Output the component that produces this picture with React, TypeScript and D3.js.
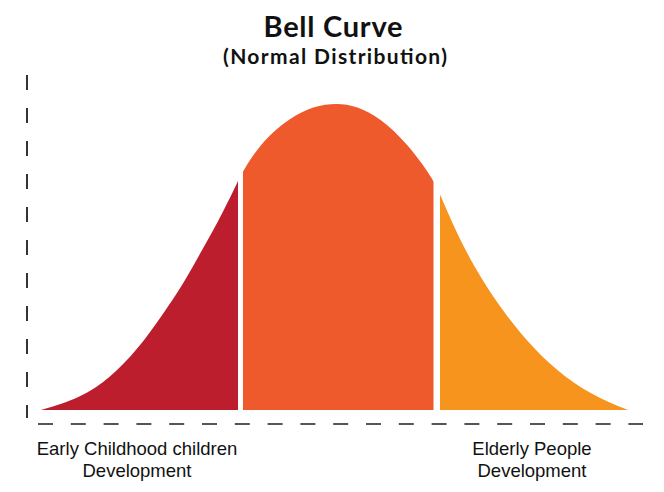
import React from "react";
import * as d3 from "d3";

// Curve samples (x in standard deviations, y as % of peak height)
const xValues = [-3, -2.6, -2.3, -2.03, -1.76, -1.56, -1.36, -1.16, -1.0, -0.95, -0.75, -0.48, -0.24, 0, 0.2, 0.44, 0.71, 0.97, 1.04, 1.23, 1.47, 1.7, 1.98, 2.31, 2.65, 2.95];
const heights = [0, 3.9, 10.5, 19.3, 31.4, 41.0, 52.5, 64.1, 74.8, 78.1, 87.9, 95.1, 99.0, 100, 99.0, 95.1, 86.9, 75.5, 70.6, 56.2, 42.2, 31.4, 20.3, 10.5, 3.9, 0];

// Regions
const regionNames = ["early", "middle", "elderly"];
const regionFrom = [-3.05, -0.953, 1.044];
const regionTo = [-1.003, 0.978, 3.05];
const regionColors = ["#BC1E2E", "#EF5A2C", "#F6941E"];

const title = "Bell Curve";
const subtitle = "(Normal Distribution)";
const leftLabel = ["Early Childhood children", "Development"];
const rightLabel = ["Elderly People", "Development"];

export default function App() {
  const W = 664, H = 492;
  const x = d3.scaleLinear().domain([-3, 3]).range([41, 633]);
  const y = d3.scaleLinear().domain([0, 100]).range([410, 103]);
  const pts = xValues.map((v, i) => [v, heights[i]] as [number, number]);
  const area = d3
    .area<[number, number]>()
    .x((d) => x(d[0]))
    .y0(y(0))
    .y1((d) => y(d[1]))
    .curve(d3.curveBasis);
  const path = area(pts) || "";

  return (
    <svg
      width={W}
      height={H}
      style={{ position: "absolute", left: 0, top: 0, background: "#fff" }}
    >
      <defs>
        {regionNames.map((n, i) => (
          <clipPath id={`clip-${n}`} key={n}>
            <rect
              x={x(regionFrom[i])}
              y={0}
              width={x(regionTo[i]) - x(regionFrom[i])}
              height={H}
            />
          </clipPath>
        ))}
      </defs>
      <rect x={0} y={0} width={W} height={H} fill="#fff" />
      {regionNames.map((n, i) => (
        <path key={n} d={path} fill={regionColors[i]} clipPath={`url(#clip-${n})`} />
      ))}
      {/* y axis */}
      <line x1={27} x2={27} y1={75} y2={418} stroke="#333" strokeWidth={2} strokeDasharray="15 18" />
      {/* x axis */}
      <line x1={38} x2={643} y1={424} y2={424} stroke="#555" strokeWidth={2} strokeDasharray="15 17.8" />
      <text x={333} y={37} textAnchor="middle" fontFamily="Lato, 'Open Sans', sans-serif" fontWeight="bold" fontSize={29} fill="#111" textLength={139} lengthAdjust="spacing">
        {title}
      </text>
      <text x={335} y={64} textAnchor="middle" fontFamily="Lato, 'Open Sans', sans-serif" fontWeight="bold" fontSize={21} fill="#111" textLength={224} lengthAdjust="spacing">
        {subtitle}
      </text>
      <g fontFamily="'Liberation Sans', Arial, sans-serif" fontSize={18.5} fill="#111" textAnchor="middle">
        <text x={137} y={455}>{leftLabel[0]}</text>
        <text x={137} y={477}>{leftLabel[1]}</text>
        <text x={532} y={455}>{rightLabel[0]}</text>
        <text x={532} y={477}>{rightLabel[1]}</text>
      </g>
    </svg>
  );
}
